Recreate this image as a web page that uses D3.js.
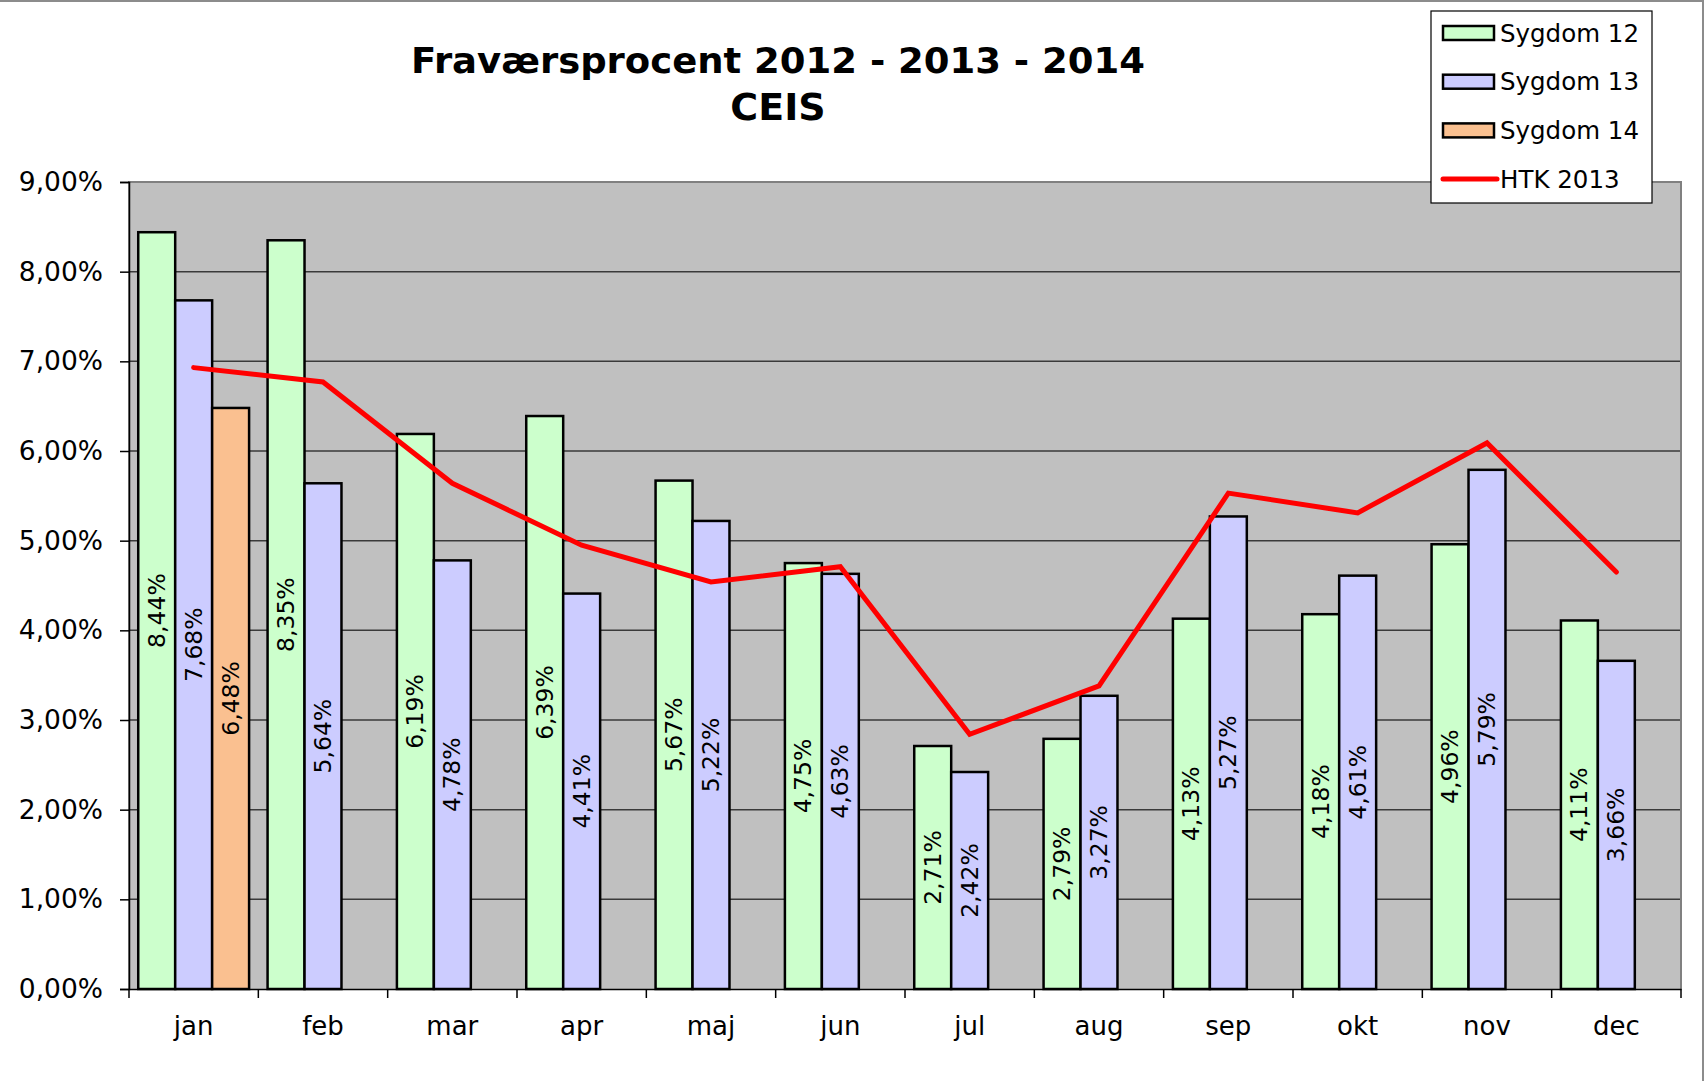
<!DOCTYPE html>
<html>
<head>
<meta charset="utf-8">
<script src="https://cdn.jsdelivr.net/npm/d3@7"></script>
<style>
  html, body { margin: 0; padding: 0; background: #fff; }
  svg { display: block; }
  text { font-family: 'DejaVu Sans', Verdana, sans-serif; fill: #000; }
</style>
</head>
<body>
<div id="chart"></div>
<script>
const months = ['jan', 'feb', 'mar', 'apr', 'maj', 'jun', 'jul', 'aug', 'sep', 'okt', 'nov', 'dec'];
const sygdom12 = [8.44, 8.35, 6.19, 6.39, 5.67, 4.75, 2.71, 2.79, 4.13, 4.18, 4.96, 4.11];
const sygdom13 = [7.68, 5.64, 4.78, 4.41, 5.22, 4.63, 2.42, 3.27, 5.27, 4.61, 5.79, 3.66];
const sygdom14 = [6.48, null, null, null, null, null, null, null, null, null, null, null];
const htk2013 = [6.93, 6.77, 5.64, 4.95, 4.54, 4.71, 2.84, 3.38, 5.53, 5.31, 6.09, 4.65];
const yTicks = [0, 1, 2, 3, 4, 5, 6, 7, 8, 9];

const seriesNames = ['Sygdom 12', 'Sygdom 13', 'Sygdom 14'];
const seriesColors = ['#ccffcc', '#ccccff', '#fac090'];
const lineName = 'HTK 2013';

const W = 1706, H = 1081;
const plot = {left: 129, top: 182, right: 1681, bottom: 989};

const locale = d3.formatLocale({decimal: ',', thousands: '.', grouping: [3], currency: ['', ' kr']});
const fmt = (v) => locale.format('.2f')(v) + '%';

const svg = d3.select('#chart')
  .append('svg')
  .attr('width', W)
  .attr('height', H);

// outer frame
svg.append('rect')
  .attr('x', -3).attr('y', 1)
  .attr('width', 1706).attr('height', 1100)
  .attr('fill', 'none')
  .attr('stroke', '#8c8c8c')
  .attr('stroke-width', 2);

const xScale = d3.scaleBand()
  .domain(months)
  .range([plot.left, plot.right])
  .padding(0);

const xInner = d3.scaleBand()
  .domain(seriesNames)
  .range([0, xScale.bandwidth()])
  .paddingInner(0)
  .paddingOuter(0.25);

const yScale = d3.scaleLinear()
  .domain([0, 9])
  .range([plot.bottom, plot.top]);

// plot background
svg.append('rect')
  .attr('x', plot.left).attr('y', plot.top)
  .attr('width', plot.right - plot.left)
  .attr('height', plot.bottom - plot.top)
  .attr('fill', '#c0c0c0');

// grid
svg.append('g')
  .selectAll('line')
  .data(yTicks.filter((t) => t > 0 && t < 9))
  .enter()
  .append('line')
  .attr('x1', plot.left).attr('x2', plot.right)
  .attr('y1', (d) => yScale(d)).attr('y2', (d) => yScale(d))
  .attr('stroke', '#3a3a3a')
  .attr('stroke-width', 1.5);

// plot border (left, top, right)
svg.append('path')
  .attr('d', `M${plot.left},${plot.bottom}V${plot.top}H${plot.right}V${plot.bottom}`)
  .attr('fill', 'none')
  .attr('stroke', '#808080')
  .attr('stroke-width', 2);

// y axis
const yAxis = svg.append('g')
  .attr('transform', `translate(${plot.left}, 0)`)
  .call(d3.axisLeft(yScale).tickValues(yTicks).tickFormat(fmt).tickSize(9).tickPadding(17));
yAxis.select('.domain').attr('stroke', '#000').attr('stroke-width', 1.5);
yAxis.selectAll('.tick line').attr('stroke', '#000').attr('stroke-width', 1.5);
yAxis.selectAll('text')
  .style('font-family', "'DejaVu Sans', Verdana, sans-serif")
  .style('font-size', '26.5px')
  .attr('fill', '#000');

// x axis
const xAxis = svg.append('g')
  .attr('transform', `translate(0, ${plot.bottom})`)
  .call(d3.axisBottom(xScale).tickSize(0).tickPadding(28));
xAxis.select('.domain').attr('stroke', '#000').attr('stroke-width', 1.5);
xAxis.selectAll('text')
  .style('font-family', "'DejaVu Sans', Verdana, sans-serif")
  .style('font-size', '26px')
  .attr('fill', '#000');
// category boundary ticks
xAxis.append('g')
  .selectAll('line')
  .data(months.concat(['end']))
  .enter()
  .append('line')
  .attr('x1', (d, i) => plot.left + i * xScale.step())
  .attr('x2', (d, i) => plot.left + i * xScale.step())
  .attr('y1', 0).attr('y2', 9)
  .attr('stroke', '#000')
  .attr('stroke-width', 1.5);

// bars
const allSeries = [sygdom12, sygdom13, sygdom14];
const barData = [];
months.forEach((m, i) => {
  allSeries.forEach((s, k) => {
    if (s[i] != null) barData.push({month: m, series: seriesNames[k], color: seriesColors[k], value: s[i]});
  });
});

const barGroups = svg.append('g')
  .selectAll('g')
  .data(barData)
  .enter()
  .append('g');

barGroups.append('rect')
  .attr('x', (d) => xScale(d.month) + xInner(d.series))
  .attr('y', (d) => yScale(d.value))
  .attr('width', xInner.bandwidth())
  .attr('height', (d) => plot.bottom - yScale(d.value))
  .attr('fill', (d) => d.color)
  .attr('stroke', '#000')
  .attr('stroke-width', 2.5);

barGroups.append('text')
  .attr('transform', (d) => {
    const cx = xScale(d.month) + xInner(d.series) + xInner.bandwidth() / 2;
    const cy = (yScale(d.value) + plot.bottom) / 2;
    return `translate(${cx}, ${cy}) rotate(-90)`;
  })
  .attr('text-anchor', 'middle')
  .attr('dominant-baseline', 'central')
  .style('font-size', '23.5px')
  .text((d) => fmt(d.value));

// HTK line
const line = d3.line()
  .x((d, i) => xScale(months[i]) + xScale.bandwidth() / 2)
  .y((d) => yScale(d));

svg.append('path')
  .datum(htk2013)
  .attr('d', line)
  .attr('fill', 'none')
  .attr('stroke', '#ff0000')
  .attr('stroke-width', 5)
  .attr('stroke-linejoin', 'miter')
  .attr('stroke-linecap', 'round');

// title
const title = svg.append('text')
  .attr('x', 778)
  .attr('text-anchor', 'middle')
  .style('font-family', "'DejaVu Sans', sans-serif")
  .style('font-weight', 'bold')
  .style('font-size', '36px');
title.append('tspan').attr('x', 778).attr('y', 73).attr('textLength', 734).attr('lengthAdjust', 'spacingAndGlyphs')
  .text('Fraværsprocent 2012 - 2013 - 2014');
title.append('tspan').attr('x', 778).attr('y', 120).style('font-size', '38px').text('CEIS');

// legend
const legend = svg.append('g').attr('transform', 'translate(1431, 11)');
legend.append('rect')
  .attr('width', 221).attr('height', 192)
  .attr('fill', '#fff')
  .attr('stroke', '#000')
  .attr('stroke-width', 1.2);

const legendItems = seriesNames.map((n, k) => ({name: n, color: seriesColors[k], type: 'bar'}))
  .concat([{name: lineName, color: '#ff0000', type: 'line'}]);

const li = legend.selectAll('.item')
  .data(legendItems)
  .enter()
  .append('g')
  .attr('class', 'item')
  .attr('transform', (d, i) => `translate(0, ${22 + i * 48.7})`);

li.filter((d) => d.type === 'bar')
  .append('rect')
  .attr('x', 12).attr('y', -7)
  .attr('width', 51).attr('height', 14)
  .attr('fill', (d) => d.color)
  .attr('stroke', '#000')
  .attr('stroke-width', 2.5);

li.filter((d) => d.type === 'line')
  .append('line')
  .attr('x1', 12).attr('x2', 66)
  .attr('y1', 0).attr('y2', 0)
  .attr('stroke', (d) => d.color)
  .attr('stroke-width', 5)
  .attr('stroke-linecap', 'round');

li.append('text')
  .attr('x', 69)
  .attr('y', 0)
  .attr('dominant-baseline', 'central')
  .style('font-size', '24.5px')
  .text((d) => d.name);
</script>
</body>
</html>
